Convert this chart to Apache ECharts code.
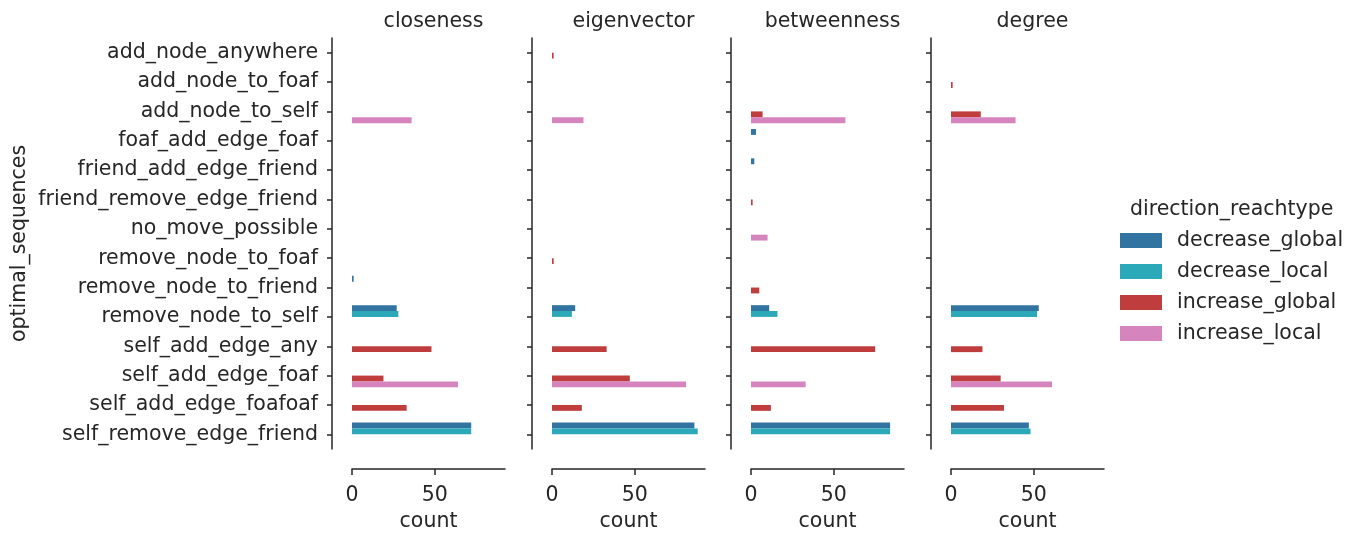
<!DOCTYPE html>
<html>
<head>
<meta charset="utf-8">
<script src="https://cdn.jsdelivr.net/npm/echarts@6/dist/echarts.min.js"></script>
<style>
html, body { margin: 0; padding: 0; background: #fff; }
#main { width: 1359px; height: 533px; }
</style>
</head>
<body>
<div id="main"></div>
<script>
// categories (y axis)
var categories = [
    "add_node_anywhere", "add_node_to_foaf", "add_node_to_self", "foaf_add_edge_foaf",
    "friend_add_edge_friend", "friend_remove_edge_friend", "no_move_possible",
    "remove_node_to_foaf", "remove_node_to_friend", "remove_node_to_self",
    "self_add_edge_any", "self_add_edge_foaf", "self_add_edge_foafoaf", "self_remove_edge_friend"
];
var hues = ["decrease_global", "decrease_local", "increase_global", "increase_local"];
var hueColors = ["#3274a1", "#2ca9b8", "#c03d3e", "#d684bd"];
var metrics = ["closeness", "eigenvector", "betweenness", "degree"];
var xTicks = [0, 50];

// counts per metric: rows = hues (order above), cols = categories
var closeness = [
    [null, null, null, null, null, null, null, null, 1, 27, null, null, null, 72],
    [null, null, null, null, null, null, null, null, null, 28, null, null, null, 72],
    [null, null, null, null, null, null, null, null, null, null, 48, 19, 33, null],
    [null, null, 36, null, null, null, null, null, null, null, null, 64, null, null]
];
var eigenvector = [
    [null, null, null, null, null, null, null, null, null, 14, null, null, null, 86],
    [null, null, null, null, null, null, null, null, null, 12, null, null, null, 88],
    [1, null, null, null, null, null, null, 1, null, null, 33, 47, 18, null],
    [null, null, 19, null, null, null, null, null, null, null, null, 81, null, null]
];
var betweenness = [
    [null, null, null, 3, 2, null, null, null, null, 11, null, null, null, 84],
    [null, null, null, null, null, null, null, null, null, 16, null, null, null, 84],
    [null, null, 7, null, null, 1, null, null, 5, null, 75, null, 12, null],
    [null, null, 57, null, null, null, 10, null, null, null, null, 33, null, null]
];
var degree = [
    [null, null, null, null, null, null, null, null, null, 53, null, null, null, 47],
    [null, null, null, null, null, null, null, null, null, 52, null, null, null, 48],
    [null, 1, 18, null, null, null, null, null, null, null, 19, 30, 32, null],
    [null, null, 39, null, null, null, null, null, null, null, null, 61, null, null]
];
var metricData = [closeness, eigenvector, betweenness, degree];

var FONT = "DejaVu Sans";
var INK = "#262626";
var FS = 20.5;
var gridLefts = [352, 552, 751, 951];
var gridW = 153;

var option = {
    animation: false,
    backgroundColor: "#fff",
    textStyle: { fontFamily: FONT, color: INK },
    color: hueColors,
    title: [],
    grid: [],
    xAxis: [],
    yAxis: [],
    series: [],
    legend: {
        orient: "vertical",
        left: 1120,
        top: 230,
        padding: 0,
        itemWidth: 42,
        itemHeight: 15,
        itemGap: 10,
        icon: "rect",
        data: hues,
        textStyle: { fontFamily: FONT, fontSize: FS, color: INK, padding: [0, 0, 0, 10] }
    }
};

for (var m = 0; m < metrics.length; m++) {
    option.title.push({
        text: metrics[m],
        left: gridLefts[m] + gridW / 2,
        top: 6,
        textAlign: "center",
        textStyle: { fontFamily: FONT, fontSize: FS, fontWeight: "normal", color: INK }
    });
    option.grid.push({
        left: gridLefts[m], width: gridW, top: 38, bottom: 84,
        containLabel: false, outerBoundsMode: "none"
    });
    option.xAxis.push({
        type: "value",
        gridIndex: m,
        min: 0,
        max: 92.4,
        offset: 20,
        name: "count",
        nameLocation: "middle",
        nameGap: 42,
        nameTextStyle: { fontFamily: FONT, fontSize: FS, color: INK },
        axisLine: { show: true, onZero: false, lineStyle: { color: INK, width: 1.5 } },
        axisTick: { show: true, length: 6, lineStyle: { color: INK, width: 1.5 }, customValues: xTicks },
        axisLabel: { fontFamily: FONT, fontSize: FS, color: INK, margin: 16, customValues: xTicks },
        splitLine: { show: false }
    });
    option.yAxis.push({
        type: "category",
        gridIndex: m,
        data: categories,
        inverse: true,
        offset: 20,
        name: m == 0 ? "optimal_sequences" : "",
        nameLocation: "middle",
        nameRotate: 90,
        nameGap: 302,
        nameTextStyle: { fontFamily: FONT, fontSize: FS, color: INK },
        axisLine: { show: true, onZero: false, lineStyle: { color: INK, width: 1.5 } },
        axisTick: { show: true, alignWithLabel: true, length: 5, lineStyle: { color: INK, width: 1.5 } },
        axisLabel: { show: m == 0, fontFamily: FONT, fontSize: FS, color: INK, margin: 14 },
        splitLine: { show: false }
    });
    for (var h = 0; h < hues.length; h++) {
        option.series.push({
            name: hues[h],
            type: "bar",
            xAxisIndex: m,
            yAxisIndex: m,
            data: metricData[m][h],
            barGap: "0%",
            barCategoryGap: "20%",
            itemStyle: { color: hueColors[h] }
        });
    }
}

option.title.push({
    text: "direction_reachtype",
    left: 1125,
    top: 194,
    textStyle: { fontFamily: FONT, fontSize: FS, fontWeight: "normal", color: INK }
});

var myChart = echarts.init(document.getElementById("main"));
myChart.setOption(option);
</script>
</body>
</html>
